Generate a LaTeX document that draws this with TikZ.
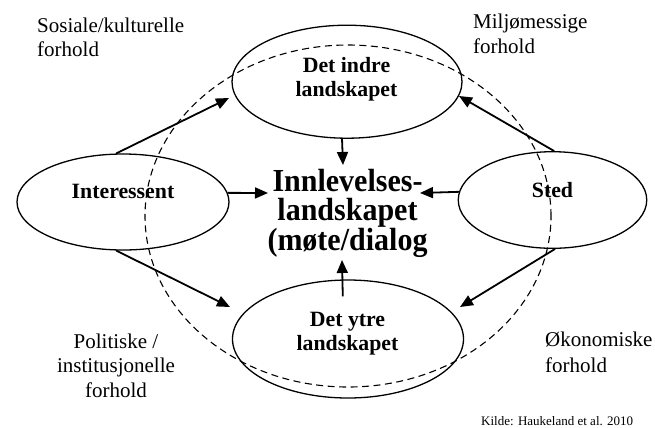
\documentclass[tikz,border=0pt]{standalone}
\usepackage{fontspec}
\setmainfont{Liberation Serif}
\usetikzlibrary{shapes.geometric,arrows.meta}
\newcommand{\mystack}[2]{\begin{tabular}[t]{@{}#1@{}}#2\end{tabular}}
\begin{document}
\begin{tikzpicture}[x=1bp,y=-1bp,
  ell/.style={draw, ellipse, line width=1.3bp, inner sep=0pt},
  fieldline/.style={draw, ellipse, line width=1.1bp, inner sep=0pt, dash pattern=on 7bp off 4.5bp},
  arr/.style={line width=1.8bp, -{Triangle[length=13bp,width=11bp]}},
  lbl/.style={inner sep=0pt, font=\fontsize{21bp}{24bp}\selectfont},
  btxt/.style={inner sep=0pt, font=\bfseries\fontsize{21.8bp}{24bp}\selectfont},
]
\useasboundingbox (0,0) rectangle (655,427);

% ellipses
\node[ell, minimum width=230bp, minimum height=113bp] (indre) at (347,81.7) {};
\node[ell, minimum width=212bp, minimum height=96bp] (int) at (123,202) {};
\node[ell, minimum width=188.5bp, minimum height=96.6bp] (sted) at (552.5,200) {};
\node[ell, minimum width=231bp, minimum height=118bp] (ytre) at (348,339) {};
\node[fieldline, minimum width=406bp, minimum height=342bp] (felt) at (348,216) {};

% texts in ellipses
\node[btxt, anchor=base] (tindre) at (346.5,72.3) {\mystack{c}{Det indre\\landskapet}};
\node[btxt, anchor=base] (tint) at (123,198) {Interessent};
\node[btxt, anchor=base] (tsted) at (552.5,197) {Sted};
\node[btxt, anchor=base] (tytre) at (347.5,326.5) {\mystack{c}{Det ytre\\landskapet}};

% centre text
\node[inner sep=0pt, anchor=base, font=\bfseries\fontsize{30bp}{23bp}\selectfont] (inn) at (347.5,191)
  {\scalebox{1}[1.07]{\mystack{c}{Innlevelses-\\landskapet\\(møte/dialog}}};

% outer labels
\node[lbl, anchor=base west] (sos) at (37,32.8) {\mystack{l}{Sosiale/kulturelle\\forhold}};
\node[lbl, anchor=base west, font=\fontsize{21bp}{25bp}\selectfont] (milj) at (473,28.3) {\mystack{l}{Miljømessige\\forhold}};
\node[lbl, anchor=base, font=\fontsize{21bp}{24.5bp}\selectfont] (pol) at (116,348.3) {\mystack{c}{Politiske /\\institusjonelle\\forhold}};
\node[lbl, anchor=base west, font=\fontsize{21bp}{26bp}\selectfont] (oko) at (545,346.5) {\mystack{l}{Økonomiske\\forhold}};
\node[inner sep=0pt, anchor=base west, font=\fontsize{13bp}{15bp}\selectfont] (kilde) at (481,425.5) {Kilde: Haukeland et al. 2010};

% arrow tips
\coordinate (t1) at (229,98);
\coordinate (t2) at (268,193);
\coordinate (t3) at (459,96);
\coordinate (t4) at (420,193);
\coordinate (t5) at (343,165);
\coordinate (t6) at (342,260);
\coordinate (t7) at (230,307);
\coordinate (t8) at (460,307);

\draw[arr] (int.98) -- (t1);
\draw[arr] (int.5) -- (t2);
\draw[arr] (sted.88) -- (t3);
\draw[arr] (sted.175) -- (t4);
\draw[arr] (indre.265) -- (t5);
\draw[arr] ([yshift=-17bp]ytre.95) -- (t6);
\draw[arr] (int.262) -- (t7);
\draw[arr] (sted.273) -- (t8);
\end{tikzpicture}
\end{document}
